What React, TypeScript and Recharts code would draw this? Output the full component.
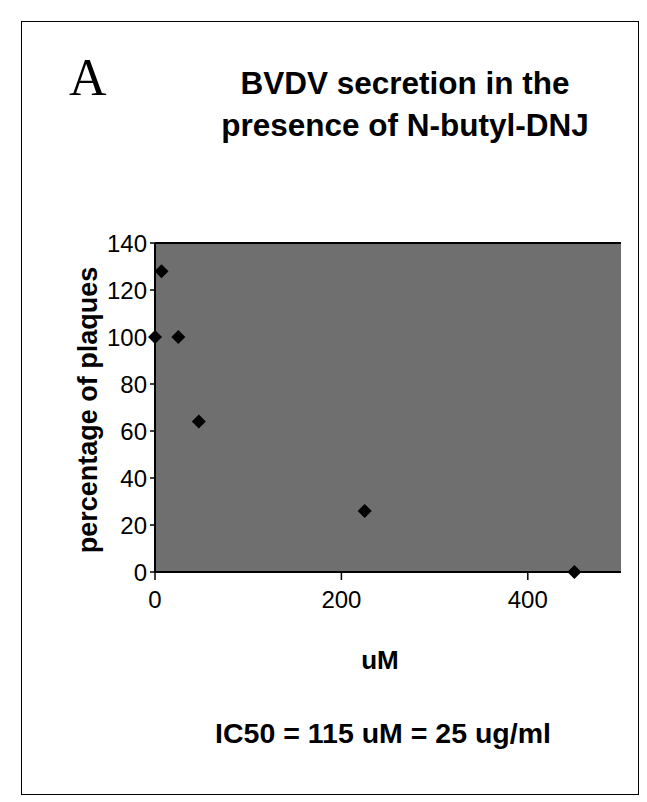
import React from 'react';
import { ScatterChart, Scatter, XAxis, YAxis, CartesianGrid, ReferenceLine } from 'recharts';

// N-butyl-DNJ concentration (uM) and plaque percentage
const doses = [0, 7, 25, 47, 225, 450];
const plaques = [100, 128, 100, 64, 26, 0];
const xTicks = [0, 200, 400];
const yTicks = [0, 20, 40, 60, 80, 100, 120, 140];

const points = doses.map((d, i) => ({ dose: d, pct: plaques[i] }));

const sans = '"Liberation Sans", Arial, sans-serif';

const Diamond = (props: any) => {
  const { cx, cy } = props;
  const r = 7;
  return <path d={`M${cx},${cy - r}L${cx + r},${cy}L${cx},${cy + r}L${cx - r},${cy}Z`} fill="#000" />;
};

export default function App() {
  return (
    <div style={{ position: 'absolute', left: 0, top: 0, width: 647, height: 802, background: '#fff', fontFamily: sans }}>
      <div
        style={{
          position: 'absolute',
          left: 21,
          top: 21,
          width: 618,
          height: 774,
          border: '1.5px solid #000',
          boxSizing: 'border-box',
        }}
      />
      <div style={{ position: 'absolute', left: 69, top: 50, fontFamily: '"Liberation Serif", serif', fontSize: 52, lineHeight: '56px' }}>
        A
      </div>
      <div
        style={{
          position: 'absolute',
          left: 195,
          top: 62,
          width: 420,
          textAlign: 'center',
          fontWeight: 'bold',
          fontSize: 31.5,
          lineHeight: '42px',
        }}
      >
        BVDV secretion in the
        <br />
        presence of N-butyl-DNJ
      </div>
      <div
        style={{
          position: 'absolute',
          left: 88,
          top: 410,
          transform: 'translate(-50%, -50%) rotate(-90deg)',
          whiteSpace: 'nowrap',
          fontWeight: 'bold',
          fontSize: 27,
        }}
      >
        percentage of plaques
      </div>
      <div style={{ position: 'absolute', left: 330, top: 645, width: 100, textAlign: 'center', fontWeight: 'bold', fontSize: 26 }}>
        uM
      </div>
      <div style={{ position: 'absolute', left: 133, top: 717, width: 500, textAlign: 'center', fontWeight: 'bold', fontSize: 28.5 }}>
        IC50 = 115 uM = 25 ug/ml
      </div>
      <div style={{ position: 'absolute', left: 0, top: 0 }}>
        <ScatterChart width={647} height={802} margin={{ top: 243, right: 26, bottom: 190, left: 85 }}>
          <CartesianGrid horizontal={false} vertical={false} fill="#6f6f6f" />
          <XAxis
            type="number"
            dataKey="dose"
            domain={[0, 500]}
            ticks={xTicks}
            height={40}
            tickSize={8}
            tickMargin={11}
            axisLine={{ stroke: '#000', strokeWidth: 2 }}
            tickLine={{ stroke: '#000', strokeWidth: 1.5 }}
            tick={{ fill: '#000', fontSize: 24, fontFamily: sans }}
          />
          <YAxis
            type="number"
            dataKey="pct"
            domain={[0, 140]}
            ticks={yTicks}
            width={70}
            tickSize={5}
            tickMargin={3}
            axisLine={{ stroke: '#000', strokeWidth: 2 }}
            tickLine={{ stroke: '#000', strokeWidth: 1.5 }}
            tick={{ fill: '#000', fontSize: 24, fontFamily: sans }}
          />
          <ReferenceLine y={140} stroke="#000" strokeWidth={2} />
          <Scatter data={points} shape={<Diamond />} isAnimationActive={false} />
        </ScatterChart>
      </div>
    </div>
  );
}
